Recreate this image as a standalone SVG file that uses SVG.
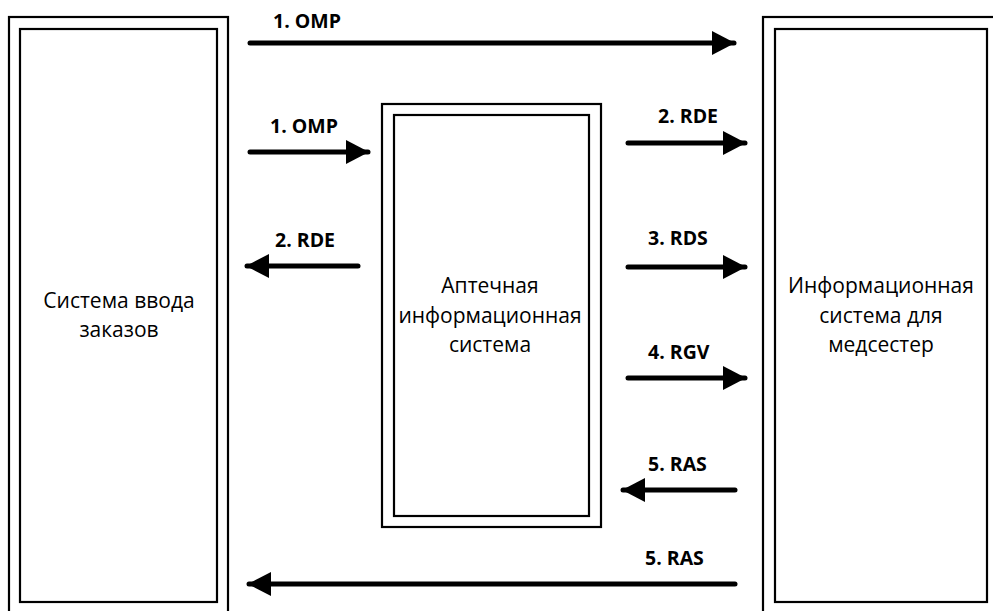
<svg xmlns="http://www.w3.org/2000/svg" width="993" height="611" viewBox="0 0 993 611">
<defs>
<marker id="ah" markerUnits="userSpaceOnUse" markerWidth="26" markerHeight="26" refX="22" refY="12" orient="auto">
<path d="M0,0 L23,12 L0,24 Z" fill="#000"/>
</marker>
<style>
.box{fill:#fff;stroke:#000;stroke-width:2.2}
.conn{stroke:#000;stroke-width:5;stroke-linecap:round;fill:none;marker-end:url(#ah)}
.lbl{font-family:"Open Sans","Liberation Sans",sans-serif;font-weight:bold;font-size:19.5px;fill:#000}
.txt{font-family:"Open Sans","Liberation Sans",sans-serif;font-size:21px;fill:#000;text-anchor:middle}
</style>
</defs>
<rect width="993" height="611" fill="#fff"/>
<g id="node-orders">
<rect class="box" x="9" y="17" width="219" height="600"/>
<rect class="box" x="20" y="29" width="197" height="573"/>
<text class="txt" x="119" y="308">Система ввода</text>
<text class="txt" x="119" y="337">заказов</text>
</g>
<g id="node-pharmacy">
<rect class="box" x="382" y="104" width="219" height="423"/>
<rect class="box" x="394" y="115" width="195" height="401"/>
<text class="txt" x="490" y="293">Аптечная</text>
<text class="txt" x="490" y="323">информационная</text>
<text class="txt" x="490" y="352">система</text>
</g>
<g id="node-nursing">
<rect class="box" x="763" y="17" width="240" height="600"/>
<rect class="box" x="775" y="29" width="212" height="573"/>
<text class="txt" x="881" y="293">Информационная</text>
<text class="txt" x="881" y="323">система для</text>
<text class="txt" x="881" y="352">медсестер</text>
</g>
<g id="connectors">
<line class="conn" x1="250" y1="43" x2="734" y2="43"/>
<text class="lbl" x="273" y="28">1. OMP</text>
<line class="conn" x1="250" y1="152" x2="368" y2="152"/>
<text class="lbl" x="270" y="133">1. OMP</text>
<line class="conn" x1="358" y1="266" x2="247" y2="266"/>
<text class="lbl" x="275" y="247">2. RDE</text>
<line class="conn" x1="628" y1="143" x2="745" y2="143"/>
<text class="lbl" x="658" y="123">2. RDE</text>
<line class="conn" x1="628" y1="267" x2="745" y2="267"/>
<text class="lbl" x="648" y="245">3. RDS</text>
<line class="conn" x1="628" y1="378" x2="745" y2="378"/>
<text class="lbl" x="648" y="359">4. RGV</text>
<line class="conn" x1="735" y1="490" x2="623" y2="490"/>
<text class="lbl" x="648" y="471">5. RAS</text>
<line class="conn" x1="735" y1="584" x2="249" y2="584"/>
<text class="lbl" x="645" y="565">5. RAS</text>
</g>
</svg>
